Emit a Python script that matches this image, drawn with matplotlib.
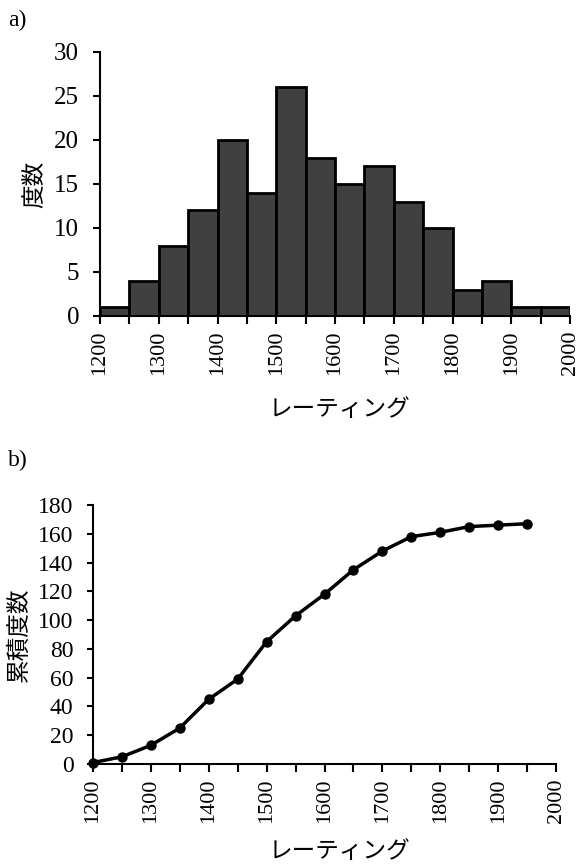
import numpy as np
import matplotlib
matplotlib.use("Agg")
import matplotlib.pyplot as plt
from matplotlib.ticker import MultipleLocator

plt.rcParams["font.family"] = ["Liberation Serif", "Noto Sans CJK JP"]

# -------------------------
# データ
# -------------------------
bin_edges = np.arange(1200, 2001, 50)
counts = [1, 4, 8, 12, 20, 14, 26, 18, 15, 17, 13, 10, 3, 4, 1, 1]
cum_x = bin_edges[:-1]
cum_counts = np.cumsum(counts)

W, H = 580, 865
fig = plt.figure(figsize=(W / 100, H / 100), dpi=100)


def px_axes(left, top, right, bottom):
    return fig.add_axes([left / W, 1 - bottom / H, (right - left) / W, (bottom - top) / H])


def style(ax, ysize, ylen, ypad):
    for s in ["top", "right"]:
        ax.spines[s].set_visible(False)
    for s in ["left", "bottom"]:
        ax.spines[s].set_linewidth(1.5)
    ax.tick_params(which="both", direction="out", width=1.5)
    ax.tick_params(axis="x", which="both", length=5.5, labelsize=16, pad=5)
    ax.tick_params(axis="y", length=ylen, labelsize=ysize, pad=ypad)
    ax.tick_params(axis="x", rotation=90)
    ax.xaxis.set_major_locator(MultipleLocator(100))
    ax.xaxis.set_minor_locator(MultipleLocator(50))


def place_labels(ax, box, xl_cx, xl_cy, yl_cx):
    left, top, right, bottom = box
    wpx, hpx = right - left, bottom - top
    ax.xaxis.set_label_coords((xl_cx - left) / wpx, -(xl_cy - bottom) / hpx)
    ax.xaxis.label.set_va("center")
    ax.yaxis.set_label_coords((yl_cx - left) / wpx, 0.5)
    ax.yaxis.label.set_va("center")


# -------------------------
# a) ヒストグラム
# -------------------------
box1 = (100, 52, 570, 316)
ax1 = px_axes(*box1)
ax1.bar(bin_edges[:-1], counts, width=50, align="edge",
        color="#404040", edgecolor="black", linewidth=2)
ax1.set_xlim(1200, 2000)
ax1.set_ylim(0, 30)
ax1.yaxis.set_major_locator(MultipleLocator(5))
style(ax1, 18, 5, 10)
ax1.set_ylabel("度数", fontsize=17)
ax1.set_xlabel("レーティング", fontsize=17)
place_labels(ax1, box1, 340, 410, 35)
fig.text(8 / W, 1 - 20 / H, "a)", fontsize=17, va="center", ha="left")

# -------------------------
# b) 累積度数
# -------------------------
box2 = (93, 505, 556, 764)
ax2 = px_axes(*box2)
ax2.plot(cum_x, cum_counts, color="black", linewidth=2.5,
         marker="o", markersize=6.5, clip_on=False)
ax2.set_xlim(1200, 2000)
ax2.set_ylim(0, 180)
ax2.yaxis.set_major_locator(MultipleLocator(20))
style(ax2, 17, 4, 10)
ax2.set_ylabel("累積度数", fontsize=17)
ax2.set_xlabel("レーティング", fontsize=17)
place_labels(ax2, box2, 340, 852, 20)
fig.text(8 / W, 1 - 460 / H, "b)", fontsize=17, va="center", ha="left")

fig.savefig("out.png", dpi=100)
